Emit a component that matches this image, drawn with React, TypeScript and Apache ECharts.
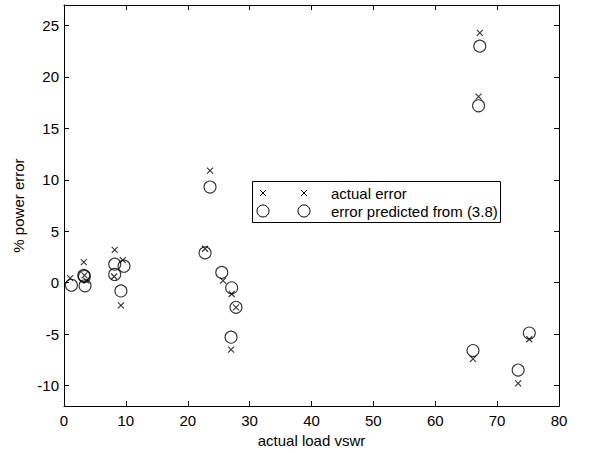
import React, { useEffect, useRef } from "react";
import * as echarts from "echarts";

// actual error (× markers)
const actualX = [1.0, 3.2, 3.3, 3.6, 8.2, 9.5, 8.1, 9.2, 22.8, 23.6, 25.7, 27.1, 27.8, 27.0, 67.2, 67.0, 66.1, 73.4, 75.2];
const actualY = [0.45, 2.0, 0.7, 0.2, 3.2, 2.2, 0.6, -2.2, 3.3, 10.9, 0.2, -1.1, -2.4, -6.5, 24.3, 18.1, -7.4, -9.8, -5.5];
// error predicted from (3.8) (○ markers)
const predX = [1.2, 3.2, 3.3, 3.4, 8.2, 9.7, 8.2, 9.2, 22.8, 23.6, 25.5, 27.1, 27.8, 27.0, 67.2, 67.0, 66.1, 73.4, 75.2];
const predY = [-0.25, 0.7, 0.6, -0.3, 1.8, 1.6, 0.8, -0.8, 2.9, 9.3, 1.0, -0.5, -2.4, -5.3, 23.0, 17.2, -6.6, -8.5, -4.9];

const yTicks = [-10, -5, 0, 5, 10, 15, 20, 25];
const legendLabels = ["actual error", "error predicted from (3.8)"];

const FONT = "'Liberation Sans', Arial, Helvetica, sans-serif";
const CROSS = "path://M0,0L10,10M10,0L0,10";

export default function App() {
  const ref = useRef<HTMLDivElement>(null);
  useEffect(() => {
    if (!ref.current) return;
    const chart = echarts.init(ref.current, null, { renderer: "svg" });
    const axisCommon = {
      type: "value" as const,
      axisLine: { show: true, onZero: false, lineStyle: { color: "#000", width: 1 } },
      axisTick: { show: true, inside: true, length: 5, lineStyle: { color: "#000" } },
      splitLine: { show: false },
    };
    chart.setOption({
      animation: false,
      backgroundColor: "#fff",
      textStyle: { fontFamily: FONT },
      grid: { left: 64, right: 33, top: 5, bottom: 44, show: false },
      xAxis: [
        {
          ...axisCommon,
          position: "bottom",
          min: 0,
          max: 80,
          interval: 10,
          axisLabel: { color: "#000", fontSize: 15, fontFamily: FONT, margin: 7 },
          name: "actual load vswr",
          nameLocation: "middle",
          nameGap: 22,
          nameTextStyle: { color: "#000", fontSize: 15, fontFamily: FONT },
        },
        {
          ...axisCommon,
          position: "top",
          min: 0,
          max: 80,
          interval: 10,
          axisLabel: { show: false },
        },
      ],
      yAxis: [
        {
          ...axisCommon,
          position: "left",
          min: -12,
          max: 27,
          axisLabel: { color: "#000", fontSize: 15, fontFamily: FONT, margin: 5, customValues: yTicks },
          axisTick: { show: true, inside: true, length: 5, lineStyle: { color: "#000" }, customValues: yTicks },
          name: "% power error",
          nameLocation: "middle",
          nameGap: 30,
          nameTextStyle: { color: "#000", fontSize: 15, fontFamily: FONT },
        },
        {
          ...axisCommon,
          position: "right",
          min: -12,
          max: 27,
          axisLabel: { show: false, customValues: yTicks },
          axisTick: { show: true, inside: true, length: 5, lineStyle: { color: "#000" }, customValues: yTicks },
        },
      ],
      series: [
        {
          name: legendLabels[0],
          type: "scatter",
          xAxisIndex: 0,
          yAxisIndex: 0,
          symbol: CROSS,
          symbolSize: 6,
          itemStyle: { color: "none", borderColor: "#000", borderWidth: 1.1 },
          emphasis: { disabled: true },
          data: actualX.map((x, i) => [x, actualY[i]]),
        },
        {
          name: legendLabels[1],
          type: "scatter",
          xAxisIndex: 0,
          yAxisIndex: 0,
          symbol: "circle",
          symbolSize: 12,
          itemStyle: { color: "none", borderColor: "#000", borderWidth: 1.1 },
          emphasis: { disabled: true },
          data: predX.map((x, i) => [x, predY[i]]),
        },
      ],
      graphic: [
        {
          type: "rect",
          shape: { x: 252.5, y: 181.5, width: 248, height: 41 },
          style: { fill: "#fff", stroke: "#000", lineWidth: 1 },
          z: 100,
        },
        ...[263, 304].flatMap((cx) => [
          { type: "line", shape: { x1: cx - 3, y1: 190, x2: cx + 3, y2: 196 }, style: { stroke: "#000", lineWidth: 1 }, z: 101 },
          { type: "line", shape: { x1: cx + 3, y1: 190, x2: cx - 3, y2: 196 }, style: { stroke: "#000", lineWidth: 1 }, z: 101 },
          { type: "circle", shape: { cx, cy: 211, r: 6 }, style: { fill: "none", stroke: "#000", lineWidth: 1 }, z: 101 },
        ]),
        {
          type: "text",
          x: 331,
          y: 193,
          style: { text: legendLabels[0], fill: "#000", fontSize: 15, fontFamily: FONT, verticalAlign: "middle" },
          z: 101,
        },
        {
          type: "text",
          x: 331,
          y: 211,
          style: { text: legendLabels[1], fill: "#000", fontSize: 15, fontFamily: FONT, verticalAlign: "middle" },
          z: 101,
        },
      ],
    });
    return () => chart.dispose();
  }, []);
  return <div ref={ref} style={{ position: "fixed", left: 0, top: 0, width: 592, height: 453 }} />;
}
